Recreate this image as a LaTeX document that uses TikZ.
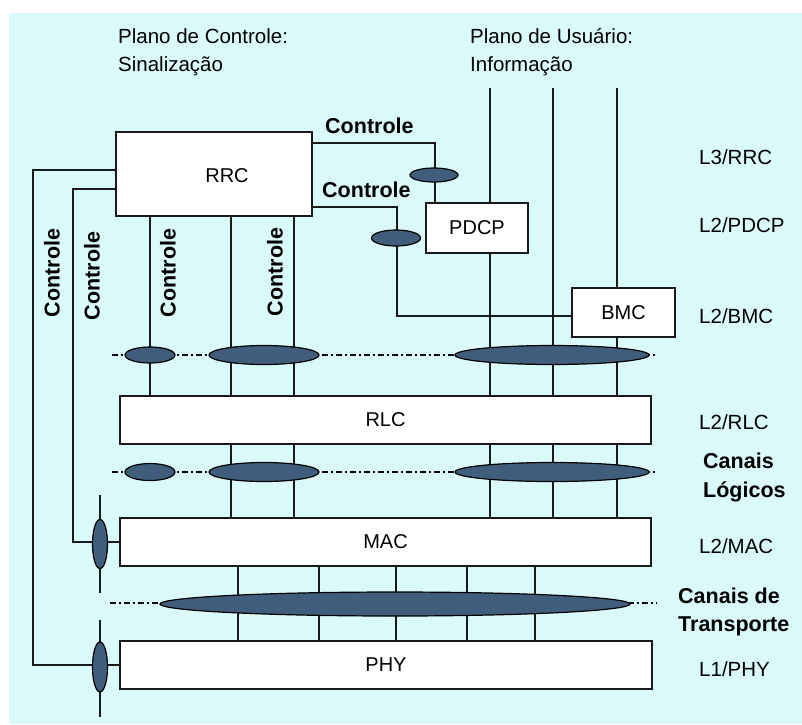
\documentclass[tikz,border=0pt]{standalone}
\usepackage{fontspec}
\setmainfont{Liberation Sans}
\usetikzlibrary{shapes.geometric}
\definecolor{bgcyan}{RGB}{218,250,250}
\definecolor{chan}{RGB}{64,94,124}
\definecolor{ln}{RGB}{25,25,25}
\begin{document}
\begin{tikzpicture}[x=1pt,y=-1pt,
  line/.style={draw=ln, line width=1.6pt},
  layerbox/.style={draw=ln, line width=1.6pt, fill=white, inner sep=0pt, font=\fontsize{20}{24}\selectfont},
  chanoval/.style={ellipse, draw=black, line width=1.2pt, fill=chan, inner sep=0pt},
  ctl/.style={font=\bfseries\fontsize{21.5}{24}\selectfont, inner sep=0pt},
  lay/.style={font=\fontsize{20.5}{24}\selectfont, anchor=base west, inner sep=0pt},
  layb/.style={font=\bfseries\fontsize{21.5}{24}\selectfont, anchor=base west, inner sep=0pt},
  ttl/.style={font=\fontsize{20.5}{24}\selectfont, anchor=base west, inner sep=0pt},
  chdash/.style={draw=black, line width=1.3pt, dash pattern=on 6pt off 3pt on 2pt off 3pt},
]
\useasboundingbox (0,0) rectangle (802,724);
\fill[white] (0,0) rectangle (802,724);
\fill[bgcyan] (9,13) rectangle (802,724);

% titles
\node[ttl] (t1) at (118,43) {Plano de Controle:};
\node[ttl] (t2) at (118,71) {Sinalização};
\node[ttl] (t3) at (470,43) {Plano de Usuário:};
\node[ttl] (t4) at (470,71) {Informação};

% boxes
\node[layerbox, minimum width=196pt, minimum height=84pt] (rrc) at (214,174) {};
\node[inner sep=0pt, anchor=base, font=\fontsize{20}{24}\selectfont] (rrctxt) at (227,182) {RRC};
\node[layerbox, minimum width=102pt, minimum height=50pt] (pdcp) at (477,228) {PDCP};
\node[layerbox, minimum width=103pt, minimum height=49pt] (bmc) at (623.5,312.5) {BMC};
\node[layerbox, minimum width=531pt, minimum height=48pt] (rlc) at (385.5,420) {RLC};
\node[layerbox, minimum width=531pt, minimum height=48pt] (mac) at (385.5,542) {MAC};
\node[layerbox, minimum width=532pt, minimum height=48pt] (phy) at (386,665) {PHY};

% coordinates
\coordinate (u1) at (490,88);
\coordinate (u2) at (553,88);
\coordinate (u3) at (617,88);
\coordinate (c1) at (150,0);
\coordinate (c2) at (231,0);
\coordinate (c3) at (294,0);
\coordinate (va1) at (100,495);
\coordinate (vb1) at (100,593);
\coordinate (va2) at (100,620);
\coordinate (vb2) at (100,717);

% user plane lines
\draw[line] (u1) -- (pdcp.north -| u1);
\draw[line] (pdcp.south -| u1) -- (rlc.north -| u1);
\draw[line] (rlc.south -| u1) -- (mac.north -| u1);
\draw[line] (u2) -- (rlc.north -| u2);
\draw[line] (rlc.south -| u2) -- (mac.north -| u2);
\draw[line] (u3) -- (bmc.north -| u3);
\draw[line] (bmc.south -| u3) -- (rlc.north -| u3);
\draw[line] (rlc.south -| u3) -- (mac.north -| u3);

% control lines from RRC bottom
\draw[line] (rrc.south -| c1) -- (rlc.north -| c1);
\draw[line] (rrc.south -| c2) -- (rlc.north -| c2);
\draw[line] (rlc.south -| c2) -- (mac.north -| c2);
\draw[line] (rrc.south -| c3) -- (rlc.north -| c3);
\draw[line] (rlc.south -| c3) -- (mac.north -| c3);

% control lines to PDCP and BMC
\draw[line] (rrc.east |- 0,143) -| (pdcp.north -| 435,0);
\draw[line] (rrc.east |- 0,207) -| (397,316) -- (bmc.west |- 0,316);

% control lines to MAC and PHY
\draw[line] (rrc.west |- 0,170) -| (phy.west -| 33,0) -- (phy.west);
\draw[line] (rrc.west |- 0,189) -| (mac.west -| 73,0) -- (mac.west);
\draw[line] (va1) -- (vb1);
\draw[line] (va2) -- (vb2);

% MAC - PHY transport lines
\foreach \x in {238,319,396,467,535}{
  \draw[line] (mac.south -| \x,0) -- (phy.north -| \x,0);
}

% channel dashed lines
\coordinate (d1a) at (112,355); \coordinate (d1b) at (657,355);
\coordinate (d2a) at (112,472); \coordinate (d2b) at (657,472);
\coordinate (d3a) at (110,603); \coordinate (d3b) at (657,603);
\draw[chdash] (d1a) -- (d1b);
\draw[chdash] (d2a) -- (d2b);
\draw[chdash] (d3a) -- (d3b);

% channel ovals
\node[chanoval, minimum width=50pt, minimum height=16pt] (e11) at (150,355) {};
\node[chanoval, minimum width=110pt, minimum height=19pt] (e12) at (264,355) {};
\node[chanoval, minimum width=194pt, minimum height=19pt] (e13) at (552,355) {};
\node[chanoval, minimum width=50pt, minimum height=17pt] (e21) at (150,472) {};
\node[chanoval, minimum width=110pt, minimum height=19pt] (e22) at (264,472) {};
\node[chanoval, minimum width=194pt, minimum height=19pt] (e23) at (552,472) {};
\node[chanoval, minimum width=470pt, minimum height=24pt] (e3) at (395,604) {};
\node[chanoval, minimum width=48pt, minimum height=14pt] (o1) at (434,175) {};
\node[chanoval, minimum width=49pt, minimum height=16pt] (o2) at (396,238) {};
\node[chanoval, minimum width=15pt, minimum height=49pt] (v1) at (100,544) {};
\node[chanoval, minimum width=15pt, minimum height=50pt] (v2) at (100,667) {};

% Controle labels
\node[ctl, anchor=base west] (k1) at (325,133) {Controle};
\node[ctl, anchor=base west] (k2) at (322,197) {Controle};
\node[ctl, rotate=90] (k3) at (52,273) {Controle};
\node[ctl, rotate=90] (k4) at (92,276) {Controle};
\node[ctl, rotate=90] (k5) at (168,273) {Controle};
\node[ctl, rotate=90] (k6) at (275,272) {Controle};

% layer labels
\node[lay] (l1) at (699,164) {L3/RRC};
\node[lay] (l2) at (699,232) {L2/PDCP};
\node[lay] (l3) at (699,323) {L2/BMC};
\node[lay] (l4) at (699,429) {L2/RLC};
\node[layb] (l5) at (703,468) {Canais};
\node[layb] (l6) at (703,497) {Lógicos};
\node[lay] (l7) at (699,553) {L2/MAC};
\node[layb] (l8) at (678,603) {Canais de};
\node[layb] (l9) at (678,631) {Transporte};
\node[lay] (l10) at (699,676) {L1/PHY};
\end{tikzpicture}
\end{document}
